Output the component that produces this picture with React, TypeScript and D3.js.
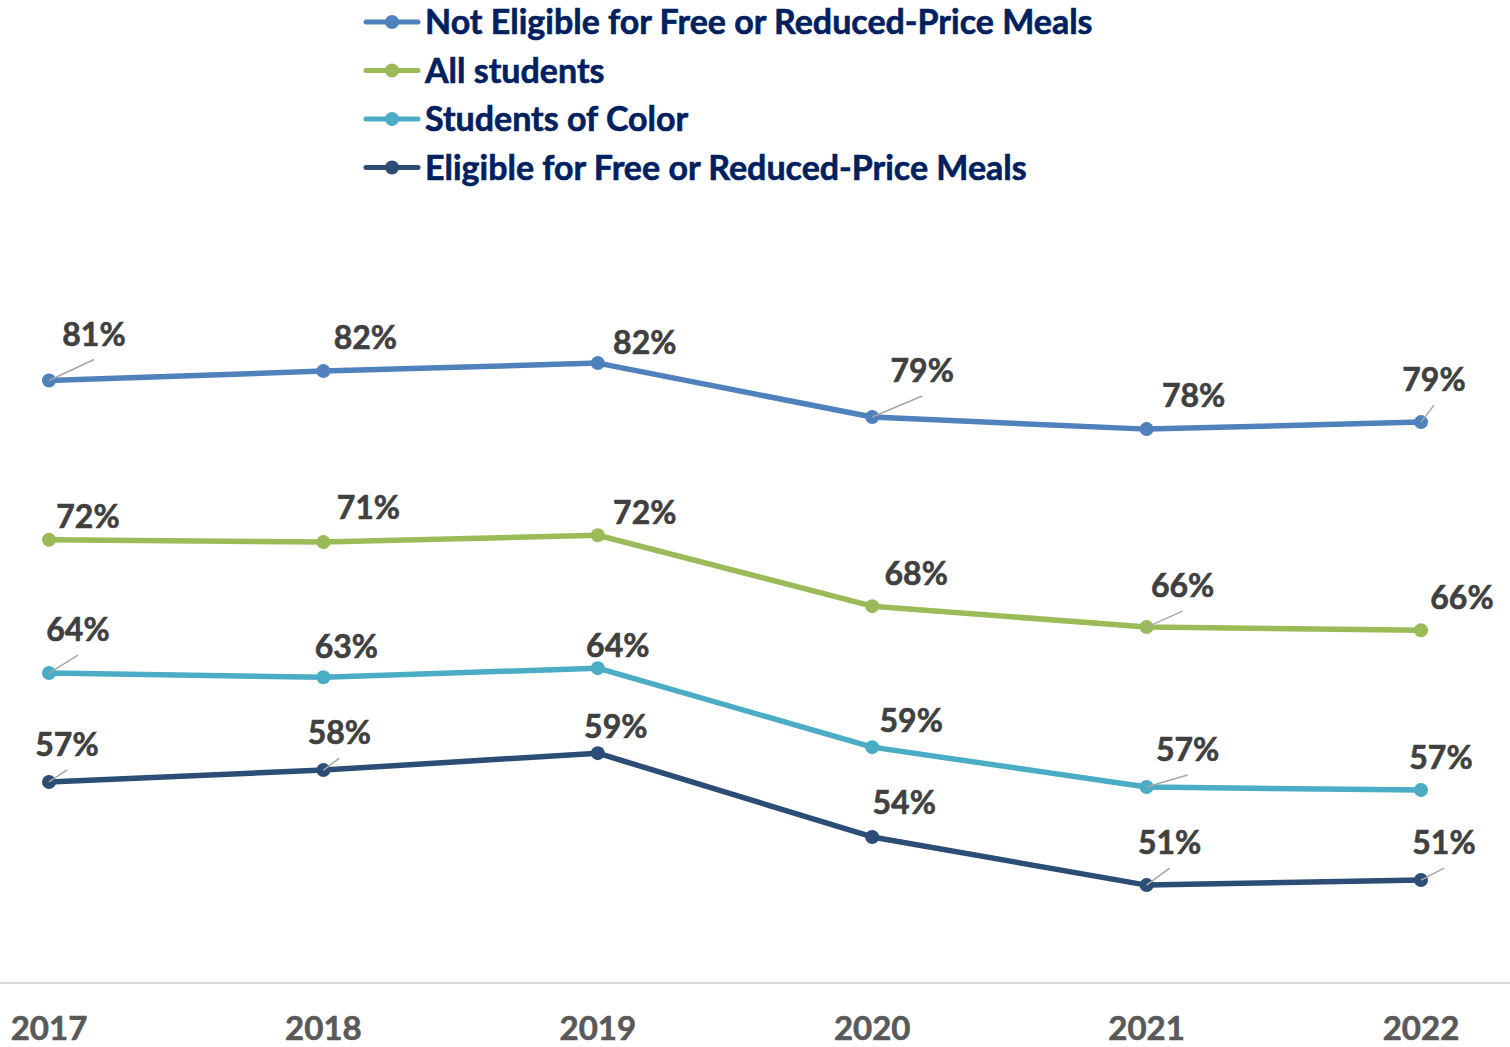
import { useEffect, useRef } from "react";
import * as d3 from "d3";

const years = ["2017", "2018", "2019", "2020", "2021", "2022"];

const notEligible = [81.0, 81.56, 82.04, 78.82, 78.1, 78.52];
const allStudents = [71.5, 71.36, 71.77, 67.54, 66.29, 66.1];
const studentsOfColor = [63.55, 63.3, 63.84, 59.13, 56.75, 56.57];
const eligible = [57.05, 57.76, 58.77, 53.77, 50.9, 51.2];

const seriesNames = [
  "Not Eligible for Free or Reduced-Price Meals",
  "All students",
  "Students of Color",
  "Eligible for Free or Reduced-Price Meals",
];

// label placement relative to each point: [dx, dy(baseline), leader?]
const labelOffsets: [number, number, boolean][][] = [
  [[45, -35, true], [42, -22, false], [47, -9, false], [50, -35, true], [47, -22, false], [13, -31, true]],
  [[39, -12, false], [45, -23, false], [47, -11, false], [44, -21, false], [36, -30, true], [41, -21, false]],
  [[29, -32, true], [23, -19, false], [20, -11, false], [39, -15, false], [41, -26, true], [20, -21, false]],
  [[18, -26, true], [16, -26, true], [18, -15, false], [32, -23, false], [23, -31, true], [23, -26, true]],
];

const colors = ["#4f81bd", "#9bbb59", "#4bacc6", "#2c4d75"];

export default function App() {
  const svgRef = useRef<SVGSVGElement | null>(null);

  useEffect(() => {
    document.body.style.margin = "0";
    if (!svgRef.current) return;

    const width = 1510;
    const height = 1047;
    const font = "Lato, 'Open Sans', sans-serif";

    const svg = d3.select(svgRef.current);
    svg.selectAll("*").remove();
    svg.attr("width", width).attr("height", height);

    const x = d3.scalePoint<string>().domain(years).range([49, 1421]);
    const y = d3.scaleLinear().domain([45, 100]).range([984, 62]);

    const allSeries = [notEligible, allStudents, studentsOfColor, eligible];

    // baseline axis
    svg
      .append("line")
      .attr("x1", 0)
      .attr("x2", width)
      .attr("y1", y(45) - 1)
      .attr("y2", y(45) - 1)
      .attr("stroke", "#d9d9d9")
      .attr("stroke-width", 2);

    svg
      .append("g")
      .selectAll("text")
      .data(years)
      .enter()
      .append("text")
      .attr("x", (d) => x(d)!)
      .attr("y", 1040)
      .attr("text-anchor", "middle")
      .attr("font-family", font)
      .attr("font-weight", 700)
      .attr("font-size", 33)
      .attr("fill", "#595959")
      .attr("stroke", "#595959")
      .attr("stroke-width", 0.6)
      .text((d) => d);

    const line = d3
      .line<number>()
      .x((_, i) => x(years[i])!)
      .y((d) => y(d));

    allSeries.forEach((values, s) => {
      const g = svg.append("g");

      g.append("path")
        .attr("d", line(values)!)
        .attr("fill", "none")
        .attr("stroke", colors[s])
        .attr("stroke-width", 5.5)
        .attr("stroke-linejoin", "round");

      g.selectAll("circle")
        .data(values)
        .enter()
        .append("circle")
        .attr("cx", (_, i) => x(years[i])!)
        .attr("cy", (d) => y(d))
        .attr("r", 7)
        .attr("fill", colors[s]);

      values.forEach((v, i) => {
        const [dx, dy, leader] = labelOffsets[s][i];
        const px = x(years[i])!;
        const py = y(v);
        if (leader) {
          g.append("line")
            .attr("x1", px)
            .attr("y1", py)
            .attr("x2", px + dx)
            .attr("y2", py + dy + 14)
            .attr("stroke", "#a6a6a6")
            .attr("stroke-width", 1.5);
        }
        g.append("text")
          .attr("x", px + dx)
          .attr("y", py + dy)
          .attr("text-anchor", "middle")
          .attr("font-family", font)
          .attr("font-weight", 700)
          .attr("font-size", 32)
          .attr("fill", "#404040")
          .attr("stroke", "#404040")
          .attr("stroke-width", 0.6)
          .text(`${Math.round(v)}%`);
      });
    });

    // legend
    const legend = svg.append("g");
    seriesNames.forEach((name, s) => {
      const cy = 22 + s * 48.5;
      legend
        .append("line")
        .attr("x1", 366)
        .attr("x2", 418)
        .attr("y1", cy)
        .attr("y2", cy)
        .attr("stroke", colors[s])
        .attr("stroke-width", 5)
        .attr("stroke-linecap", "round");
      legend
        .append("circle")
        .attr("cx", 392)
        .attr("cy", cy)
        .attr("r", 7)
        .attr("fill", colors[s]);
      legend
        .append("text")
        .attr("x", 425)
        .attr("y", cy + 12)
        .attr("font-family", font)
        .attr("font-weight", 700)
        .attr("font-size", 34)
        .attr("fill", "#002060")
        .attr("stroke", "#002060")
        .attr("stroke-width", 0.6)
        .text(name);
    });
  }, []);

  return <svg ref={svgRef} style={{ display: "block" }} />;
}
